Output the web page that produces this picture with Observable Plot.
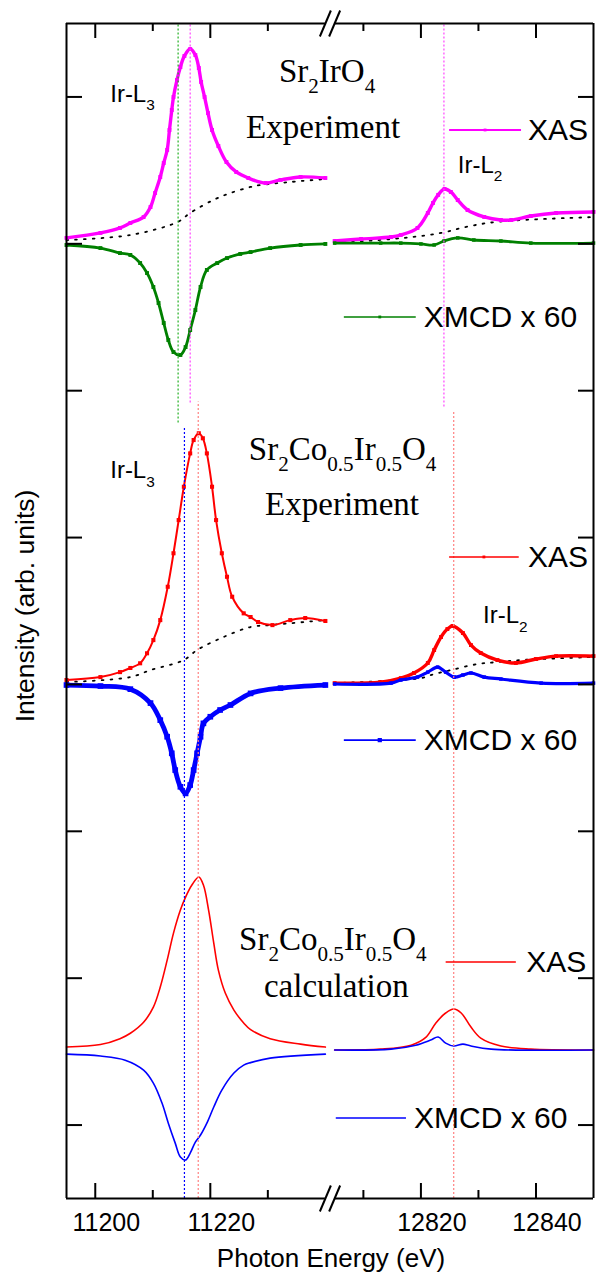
<!DOCTYPE html>
<html><head><meta charset="utf-8">
<script src="https://cdn.jsdelivr.net/npm/d3@7"></script>
<script src="https://cdn.jsdelivr.net/npm/@observablehq/plot@0.6"></script>
<style>body{margin:0;background:#fff}</style>
</head><body><div id="chart"></div>
<script>
// ---- axis setup (broken energy axis: Ir-L3 and Ir-L2 windows) ----
const segL3 = [11195, 11240];
const segL2 = [12805, 12850];
const gapEV = 1.61;
const yDomain = [-0.5, 7.5];
const yTicks = [0, 1, 2, 3, 4, 5, 6, 7];
const xMajor = [11200, 11220, 12820, 12840];
const xMinor = [11210, 11230, 12810, 12830];

// ---- Panel 1: Sr2IrO4 experiment ----
const sio_L3_xas = [[11195.0,6.040],[11200.9,6.074],[11204.3,6.108],[11206.1,6.142],[11208.4,6.182],[11209.6,6.250],[11210.4,6.346],[11211.3,6.455],[11211.9,6.550],[11212.5,6.639],[11212.9,6.775],[11213.3,6.911],[11213.6,7.000],[11214.2,7.115],[11214.8,7.204],[11215.5,7.279],[11216.5,7.326],[11217.4,7.285],[11218.0,7.197],[11218.4,7.102],[11219.0,7.000],[11219.6,6.890],[11220.3,6.775],[11221.4,6.666],[11222.8,6.557],[11224.5,6.489],[11226.6,6.448],[11229.6,6.414],[11232.2,6.435],[11235.7,6.455],[11240.0,6.448]];
const sio_L3_bg = [[11195.0,6.026],[11206.1,6.060],[11214.4,6.150],[11216.5,6.210],[11220.5,6.298],[11223.5,6.346],[11227.0,6.387],[11228.7,6.400],[11233.9,6.421],[11240.0,6.441]];
const sio_L3_xmcd = [[11195.0,5.992],[11200.9,5.971],[11204.3,5.937],[11206.1,5.924],[11207.8,5.869],[11209.0,5.801],[11210.1,5.706],[11211.0,5.597],[11211.9,5.461],[11212.7,5.345],[11213.6,5.263],[11214.8,5.243],[11215.7,5.297],[11216.5,5.413],[11217.4,5.549],[11218.3,5.706],[11219.4,5.822],[11221.2,5.869],[11222.9,5.903],[11225.2,5.931],[11227.0,5.944],[11230.4,5.971],[11235.7,5.992],[11240.0,5.999]];
const sio_L2_xas = [[12805.0,6.019],[12809.6,6.033],[12814.8,6.046],[12816.5,6.060],[12819.4,6.108],[12821.2,6.210],[12822.1,6.278],[12823.0,6.333],[12824.1,6.373],[12825.2,6.353],[12826.4,6.298],[12828.1,6.230],[12831.0,6.183],[12833.9,6.162],[12835.7,6.162],[12839.1,6.189],[12843.5,6.210],[12850.0,6.217]];
const sio_L2_bg = [[12805.0,6.005],[12817.0,6.040],[12823.5,6.074],[12828.1,6.117],[12833.3,6.150],[12850.0,6.182]];
const sio_L2_xmcd = [[12805.0,6.005],[12813.0,6.005],[12816.5,6.005],[12820.0,5.999],[12822.3,5.992],[12824.0,6.019],[12826.4,6.040],[12829.2,6.026],[12833.9,6.019],[12839.1,6.005],[12850.0,6.005]];

// ---- Panel 2: Sr2Co0.5Ir0.5O4 experiment ----
const sco_L3_xas = [[11195.0,3.030],[11200.9,3.050],[11204.3,3.084],[11206.1,3.112],[11207.8,3.144],[11209.0,3.212],[11210.1,3.302],[11211.3,3.438],[11212.6,3.665],[11213.6,3.893],[11214.5,4.119],[11215.4,4.346],[11216.5,4.573],[11217.1,4.664],[11218.0,4.710],[11218.7,4.676],[11219.4,4.573],[11220.3,4.346],[11221.0,4.119],[11222.0,3.893],[11222.9,3.733],[11223.8,3.597],[11225.8,3.484],[11227.0,3.459],[11228.3,3.425],[11230.8,3.404],[11233.9,3.438],[11236.5,3.452],[11240.0,3.432]];
const sco_L3_bg = [[11195.0,3.016],[11206.1,3.050],[11209.6,3.098],[11215.4,3.166],[11217.7,3.234],[11222.3,3.323],[11227.0,3.391],[11230.4,3.404],[11240.0,3.438]];
const sco_L3_xmcd = [[11195.0,2.996],[11200.9,2.989],[11206.1,2.968],[11209.6,2.873],[11211.3,2.757],[11212.5,2.644],[11213.3,2.531],[11213.9,2.417],[11214.8,2.303],[11215.7,2.258],[11216.5,2.315],[11217.1,2.417],[11217.7,2.531],[11218.3,2.644],[11218.8,2.735],[11220.0,2.780],[11221.7,2.826],[11223.5,2.860],[11227.0,2.939],[11232.2,2.975],[11240.0,2.996]];
const sco_L2_xas = [[12805.0,3.009],[12813.0,3.016],[12816.5,3.043],[12818.8,3.078],[12821.2,3.146],[12822.3,3.234],[12823.5,3.323],[12824.6,3.377],[12825.5,3.398],[12827.3,3.350],[12828.7,3.268],[12830.4,3.214],[12833.3,3.166],[12836.5,3.146],[12840.0,3.173],[12843.5,3.193],[12850.0,3.193]];
const sco_L2_bg = [[12805.0,3.009],[12820.0,3.043],[12821.7,3.064],[12825.2,3.098],[12829.9,3.139],[12833.3,3.152],[12837.4,3.166],[12850.0,3.187]];
const sco_L2_xmcd = [[12805.0,3.003],[12814.8,3.009],[12816.5,3.030],[12819.4,3.050],[12821.2,3.084],[12822.9,3.118],[12824.3,3.084],[12825.8,3.050],[12827.3,3.064],[12828.7,3.078],[12831.0,3.050],[12833.9,3.037],[12840.9,3.009],[12850.0,3.009]];

// ---- Panel 3: Sr2Co0.5Ir0.5O4 calculation ----
const calc_L3_xas = [[11195.0,0.531],[11200.9,0.548],[11204.3,0.588],[11206.1,0.625],[11208.4,0.700],[11210.1,0.803],[11211.3,0.940],[11212.5,1.123],[11213.6,1.307],[11214.8,1.464],[11215.7,1.552],[11216.8,1.634],[11218.0,1.689],[11218.8,1.634],[11219.7,1.464],[11220.6,1.239],[11221.4,1.055],[11222.6,0.899],[11224.1,0.783],[11225.8,0.695],[11227.0,0.650],[11230.4,0.588],[11235.7,0.551],[11240.0,0.531]];
const calc_L3_xmcd = [[11195.0,0.483],[11200.9,0.470],[11205.2,0.442],[11208.4,0.374],[11210.1,0.286],[11211.6,0.150],[11212.7,0.013],[11213.9,-0.123],[11214.8,-0.218],[11215.7,-0.238],[11216.5,-0.191],[11217.4,-0.116],[11218.3,-0.068],[11219.4,0.013],[11220.6,0.123],[11222.0,0.238],[11224.1,0.354],[11225.8,0.408],[11227.0,0.425],[11230.4,0.456],[11240.0,0.483]];
const calc_L2_xas = [[12805.0,0.511],[12813.0,0.517],[12818.3,0.544],[12820.9,0.599],[12822.6,0.695],[12824.3,0.763],[12825.7,0.790],[12827.0,0.763],[12828.7,0.667],[12830.4,0.592],[12833.9,0.538],[12839.1,0.517],[12850.0,0.511]];
const calc_L2_xmcd = [[12805.0,0.511],[12814.8,0.517],[12819.1,0.544],[12821.7,0.579],[12823.0,0.599],[12824.3,0.558],[12825.7,0.538],[12827.3,0.551],[12828.7,0.538],[12832.2,0.517],[12850.0,0.511]];

// ---- reference energies (vertical dotted lines) ----
const refLines = [
  {E: 11214.4, from: 4.78, to: 7.5, color: "#22b022"},
  {E: 11216.5, from: 4.916, to: 7.5, color: "#ff44ff"},
  {E: 12824.0, from: 4.889, to: 7.5, color: "#ff44ff"},
  {E: 11215.5, from: -0.5, to: 4.746, color: "#0000ff"},
  {E: 11217.9, from: -0.5, to: 4.923, color: "#ff8080"},
  {E: 12825.7, from: -0.5, to: 4.855, color: "#ff8080"}
];

// ---- annotations ----
const edgeLabels = [
  {E: 11202.6, y: 6.968, text: "Ir-L_{3}"},
  {E: 12826.4, y: 6.482, text: "Ir-L_{2}"},
  {E: 11202.6, y: 4.403, text: "Ir-L_{3}"},
  {E: 12830.8, y: 3.416, text: "Ir-L_{2}"}
];
const titles = [
  {E: 11240.3, y: 7.104, text: "Sr_{2}IrO_{4}"},
  {E: 11239.6, y: 6.718, text: "Experiment"},
  {E: 11243.0, y: 4.528, text: "Sr_{2}Co_{0.5}Ir_{0.5}O_{4}"},
  {E: 11242.9, y: 4.153, text: "Experiment"},
  {E: 11241.3, y: 1.191, text: "Sr_{2}Co_{0.5}Ir_{0.5}O_{4}"},
  {E: 11241.9, y: 0.871, text: "calculation"}
];
const legendItems = [
  {E1: 12824.9, E2: 12837.4, y: 6.775, color: "#ff00ff", w: 2, r: 1.6, text: "XAS", tE: 12838.6},
  {E1: 12806.6, E2: 12819.1, y: 5.502, color: "#008000", w: 1.6, r: 1.6, text: "XMCD x 60", tE: 12820.5},
  {E1: 12824.9, E2: 12837.0, y: 3.868, color: "#ff0000", w: 1.4, r: 1.6, text: "XAS", tE: 12838.6},
  {E1: 12806.6, E2: 12819.1, y: 2.621, color: "#0000ff", w: 1.6, r: 2.4, text: "XMCD x 60", tE: 12820.5},
  {E1: 12824.3, E2: 12836.5, y: 1.110, color: "#ff0000", w: 1.6, r: 0, text: "XAS", tE: 12838.3},
  {E1: 12805.2, E2: 12817.4, y: 0.048, color: "#0000ff", w: 1.6, r: 0, text: "XMCD x 60", tE: 12818.8}
];

// ---- build ----
const U = E => E < 12000 ? E - segL3[0] : E - segL2[0] + (segL3[1] - segL3[0]) + gapEV;
const uBreakL = U(segL3[1]), uBreakR = U(segL2[0]), uMax = U(segL2[1]);
const W = 598, H = 1272, mT = 23, mB = 74, mL = 66, mR = 5;
const pxX = uMax / (W - mL - mR), pxY = (yDomain[1] - yDomain[0]) / (H - mT - mB);
const sans = "'Liberation Sans', Arial, Helvetica, sans-serif";
const serif = "'Liberation Serif', 'Times New Roman', Times, serif";
const X = d => U(d[0]), Y = d => d[1];

function curve(data, color, sw, r) {
  const m = [Plot.line(data, {x: X, y: Y, stroke: color, strokeWidth: sw, curve: "catmull-rom"})];
  if (r) m.push(Plot.dot(data, {x: X, y: Y, symbol: "square", r, fill: color, stroke: "none"}));
  return m;
}
function bg(data) {
  return Plot.line(data, {x: X, y: Y, stroke: "#000", strokeWidth: 1.8, strokeDasharray: "1.8,7", curve: "catmull-rom"});
}

const marks = [
  bg(sio_L3_bg), bg(sio_L2_bg), bg(sco_L3_bg), bg(sco_L2_bg),
  ...curve(sio_L3_xas, "#ff00ff", 3.4, 2.2), ...curve(sio_L2_xas, "#ff00ff", 3.4, 2.2),
  ...curve(sio_L3_xmcd, "#008000", 2.8, 2.2), ...curve(sio_L2_xmcd, "#008000", 2.8, 2.0),
  ...curve(sco_L3_xas, "#ff0000", 2, 2.3), ...curve(sco_L2_xas, "#ff0000", 3.4, 2.2),
  ...curve(sco_L3_xmcd, "#0000ff", 4.8, 3.2), ...curve(sco_L2_xmcd, "#0000ff", 3.2, 2.0),
  ...curve(calc_L3_xas, "#ff0000", 1.6), ...curve(calc_L2_xas, "#ff0000", 1.6),
  ...curve(calc_L3_xmcd, "#0000ff", 1.6), ...curve(calc_L2_xmcd, "#0000ff", 1.6),
  ...refLines.map(d => Plot.ruleX([d], {x: r => U(r.E), y1: "from", y2: "to", stroke: d.color, strokeWidth: 1.2, strokeDasharray: "2,2"})),
  // frame
  Plot.ruleX([0, uMax], {y1: yDomain[0], y2: yDomain[1], stroke: "#000", strokeWidth: 2}),
  Plot.ruleY([yDomain[0], yDomain[1]], {x1: 0, x2: uBreakL, stroke: "#000", strokeWidth: 2}),
  Plot.ruleY([yDomain[0], yDomain[1]], {x1: uBreakR, x2: uMax, stroke: "#000", strokeWidth: 2}),
  // break marks
  Plot.link(d3.cross([uBreakL, uBreakR], yDomain), {
    x1: d => d[0] - 5.5 * pxX, y1: d => d[1] - 13 * pxY,
    x2: d => d[0] + 5.5 * pxX, y2: d => d[1] + 13 * pxY,
    stroke: "#000", strokeWidth: 2}),
  // ticks
  Plot.ruleY(yTicks, {x1: 0, x2: 16 * pxX, stroke: "#000", strokeWidth: 2}),
  Plot.ruleY(yTicks, {x1: uMax - 15 * pxX, x2: uMax, stroke: "#000", strokeWidth: 2}),
  Plot.ruleX(xMajor, {x: U, y1: yDomain[0], y2: yDomain[0] + 15 * pxY, stroke: "#000", strokeWidth: 2}),
  Plot.ruleX(xMajor, {x: U, y1: yDomain[1], y2: yDomain[1] - 15 * pxY, stroke: "#000", strokeWidth: 2}),
  Plot.ruleX(xMinor, {x: U, y1: yDomain[0], y2: yDomain[0] + 8 * pxY, stroke: "#000", strokeWidth: 2}),
  Plot.ruleX(xMinor, {x: U, y1: yDomain[1], y2: yDomain[1] - 8 * pxY, stroke: "#000", strokeWidth: 2}),
  // tick labels
  Plot.text(xMajor, {x: U, y: yDomain[0], dy: 32, dx: 11, text: d => String(d), fontSize: 25, fontFamily: sans, textAnchor: "middle", lineAnchor: "bottom", fill: "#000"}),
  // axis titles
  Plot.text(["Photon Energy (eV)"], {frameAnchor: "bottom", dy: 68, dx: 1, text: d => d, fontSize: 26, fontFamily: sans, textAnchor: "middle", lineAnchor: "bottom", fill: "#000"}),
  Plot.text(["Intensity (arb. units)"], {frameAnchor: "left", dx: -33, dy: -5, rotate: -90, text: d => d, fontSize: 26.5, fontFamily: sans, textAnchor: "middle", lineAnchor: "bottom", fill: "#000"}),
  // annotations
  Plot.text(edgeLabels, {x: d => U(d.E), y: "y", text: "text", fontSize: 24, fontFamily: sans, textAnchor: "start", lineAnchor: "bottom", fill: "#000"}),
  Plot.text(titles, {x: d => U(d.E), y: "y", text: "text", fontSize: 33, fontFamily: serif, textAnchor: "middle", lineAnchor: "bottom", fill: "#000"}),
  // legends
  ...legendItems.flatMap(d => {
    const m = [Plot.link([d], {x1: l => U(l.E1), x2: l => U(l.E2), y1: "y", y2: "y", stroke: d.color, strokeWidth: d.w})];
    if (d.r) m.push(Plot.dot([d], {x: l => (U(l.E1) + U(l.E2)) / 2, y: "y", symbol: "square", r: d.r, fill: d.color, stroke: "none"}));
    m.push(Plot.text([d], {x: l => U(l.tE), y: "y", text: "text", fontSize: 30, fontFamily: sans, textAnchor: "start", lineAnchor: "middle", fill: "#000"}));
    return m;
  })
];

const chart = Plot.plot({
  width: W, height: H,
  marginTop: mT, marginBottom: mB, marginLeft: mL, marginRight: mR,
  x: {domain: [0, uMax], axis: null},
  y: {domain: yDomain, axis: null},
  style: {background: "#fff", fontFamily: sans, overflow: "visible"},
  marks
});
document.getElementById("chart").appendChild(chart);

// subscripts: "A_{x}" -> tspan
chart.querySelectorAll("text").forEach(t => {
  const s = t.textContent;
  if (!s.includes("_{")) return;
  const fs = parseFloat(getComputedStyle(t).fontSize);
  const shift = 0.34 * fs, subSize = 0.64 * fs;
  const parts = s.split(/_\{([^}]*)\}/);
  while (t.firstChild) t.removeChild(t.firstChild);
  const ns = "http://www.w3.org/2000/svg";
  let down = false;
  parts.forEach((p, i) => {
    if (!p) return;
    const ts = document.createElementNS(ns, "tspan");
    ts.textContent = p;
    if (i % 2 === 1) {
      ts.setAttribute("font-size", subSize);
      if (!down) { ts.setAttribute("dy", shift); down = true; }
    } else if (down) {
      ts.setAttribute("dy", -shift); down = false;
    }
    t.appendChild(ts);
  });
});
</script>
</body></html>
